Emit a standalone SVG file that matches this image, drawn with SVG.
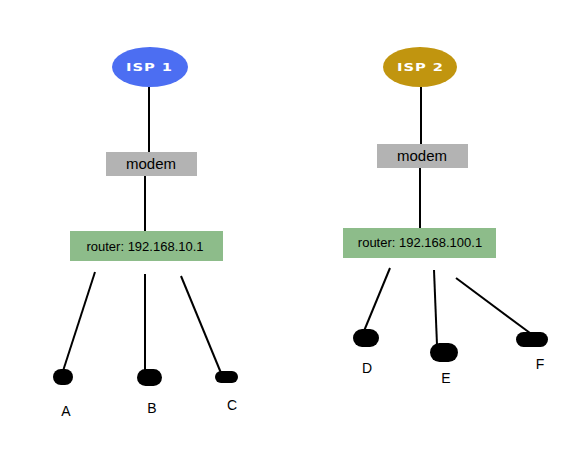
<svg xmlns="http://www.w3.org/2000/svg" width="577" height="451" viewBox="0 0 577 451">
<style>
.ln{stroke:#000;stroke-width:2;fill:none}
.modem{fill:#b3b3b3}
.router{fill:#8dbc8a}
.dev{fill:#000}
.t{font-family:"Liberation Sans",Arial,sans-serif;fill:#000;text-anchor:middle}
.isp{font-family:"DejaVu Sans",sans-serif;font-weight:bold;font-size:10.5px;fill:#fff;text-anchor:middle}
</style>
<rect width="577" height="451" fill="#fff"/>
<g id="connectors">
<line class="ln" x1="149" y1="87" x2="149" y2="152"/>
<line class="ln" x1="145" y1="176" x2="145" y2="231"/>
<line class="ln" x1="421" y1="87" x2="421" y2="144"/>
<line class="ln" x1="420" y1="168" x2="420" y2="228"/>
<line class="ln" x1="95" y1="272" x2="63" y2="371"/>
<line class="ln" x1="145" y1="274" x2="145" y2="371"/>
<line class="ln" x1="181" y1="276" x2="221" y2="373"/>
<line class="ln" x1="390" y1="268" x2="364" y2="331"/>
<line class="ln" x1="434" y1="270" x2="437" y2="345"/>
<line class="ln" x1="456" y1="278" x2="530" y2="333"/>
</g>
<g id="isp1">
<ellipse cx="150" cy="67" rx="38" ry="20" fill="#4c6ef2"/>
<text class="isp" transform="scale(1.4,1)" x="106.43" y="71.5" textLength="32.9" lengthAdjust="spacing">ISP 1</text>
</g>
<g id="isp2">
<ellipse cx="420" cy="67" rx="37" ry="20" fill="#c1950f"/>
<text class="isp" transform="scale(1.4,1)" x="300" y="71.5" textLength="32.9" lengthAdjust="spacing">ISP 2</text>
</g>
<g id="modem1">
<rect class="modem" x="106" y="152" width="91" height="24"/>
<text class="t" x="151" y="169" font-size="15">modem</text>
</g>
<g id="modem2">
<rect class="modem" x="377" y="144" width="91" height="24"/>
<text class="t" x="422" y="161" font-size="15">modem</text>
</g>
<g id="router1">
<rect class="router" x="70" y="231" width="153" height="30"/>
<text class="t" x="145" y="251" font-size="13">router: 192.168.10.1</text>
</g>
<g id="router2">
<rect class="router" x="343" y="228" width="153" height="30"/>
<text class="t" x="420" y="247" font-size="13">router: 192.168.100.1</text>
</g>
<g id="devA">
<rect class="dev" x="53" y="369" width="20" height="16" rx="8"/>
<text class="t" x="66" y="416" font-size="14">A</text>
</g>
<g id="devB">
<rect class="dev" x="137" y="369" width="25" height="17" rx="8.5"/>
<text class="t" x="152" y="413" font-size="14">B</text>
</g>
<g id="devC">
<rect class="dev" x="215" y="371" width="23" height="12" rx="6"/>
<text class="t" x="232" y="410" font-size="14">C</text>
</g>
<g id="devD">
<rect class="dev" x="353" y="329" width="26" height="18" rx="9"/>
<text class="t" x="367" y="373" font-size="14">D</text>
</g>
<g id="devE">
<rect class="dev" x="430" y="343" width="28" height="19" rx="9.5"/>
<text class="t" x="446" y="383" font-size="14">E</text>
</g>
<g id="devF">
<rect class="dev" x="516" y="332" width="32" height="15" rx="7.5"/>
<text class="t" x="540" y="369" font-size="14">F</text>
</g>
</svg>
